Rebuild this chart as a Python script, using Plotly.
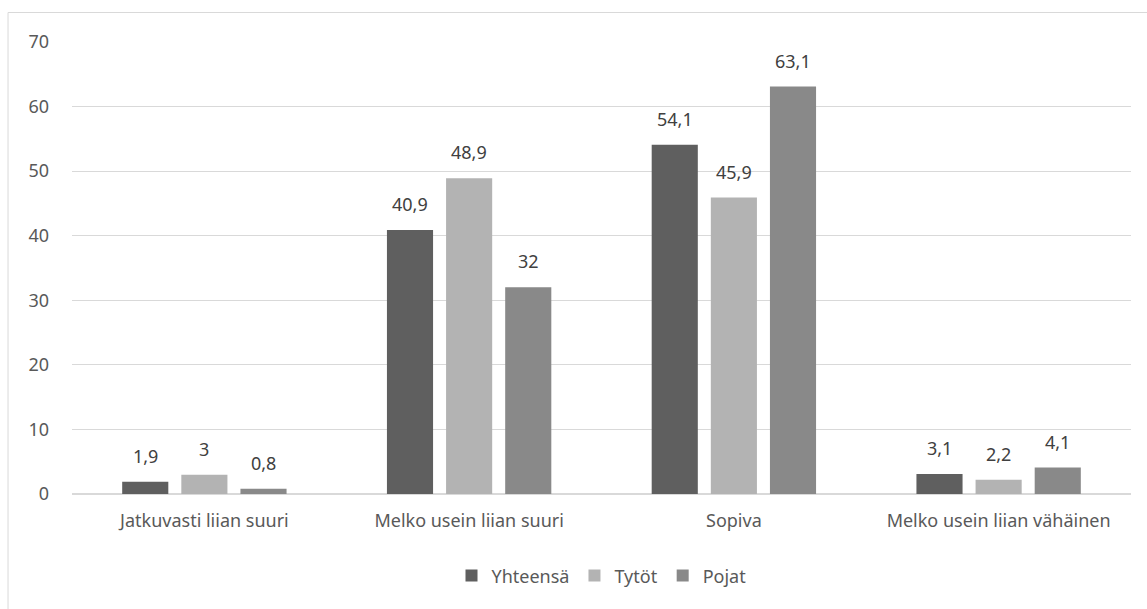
import plotly.graph_objects as go

categories = ["Jatkuvasti liian suuri", "Melko usein liian suuri", "Sopiva", "Melko usein liian vähäinen"]
series_names = ["Yhteensä", "Tytöt", "Pojat"]
yhteensa = [1.9, 40.9, 54.1, 3.1]
tytot = [3, 48.9, 45.9, 2.2]
pojat = [0.8, 32, 63.1, 4.1]
colors = ["#5f5f5f", "#b3b3b3", "#898989"]
y_ticks = [0, 10, 20, 30, 40, 50, 60, 70]

FONT = "Noto Sans"

def fmt(v):
    s = ("%g" % v)
    return s.replace(".", ",")

fig = go.Figure()
all_series = [yhteensa, tytot, pojat]
for name, vals, col in zip(series_names, all_series, colors):
    fig.add_trace(go.Bar(
        name=name, x=categories, y=vals,
        marker=dict(color=col, line=dict(width=0)),
        cliponaxis=False,
    ))

slot = 59
annotations = []
for i, vals in enumerate(all_series):
    for c, v in zip(categories, vals):
        annotations.append(dict(
            x=c, y=v, xref="x", yref="y", text=fmt(v), showarrow=False,
            xanchor="center", yanchor="bottom", xshift=(i - 1) * slot, yshift=12,
            font=dict(family=FONT, size=18, color="#404040"),
        ))

fig.update_layout(
    width=1147, height=609,
    margin=dict(l=72, r=16, t=42, b=115),
    paper_bgcolor="white", plot_bgcolor="white",
    barmode="group", bargap=0.33, bargroupgap=0.22,
    font=dict(family=FONT, size=18, color="#595959"),
    showlegend=True,
    legend=dict(orientation="h", x=0.5, xanchor="center", y=-0.14, yanchor="top",
                font=dict(family=FONT, size=18, color="#595959"),
                itemwidth=30, traceorder="normal"),
    xaxis=dict(showgrid=False, showline=False, ticks="", ticklabelstandoff=14,
               tickfont=dict(size=18, color="#595959")),
    yaxis=dict(range=[0, 70], tickvals=y_ticks, showgrid=True, gridcolor="#d9d9d9", gridwidth=1,
               zeroline=True, zerolinecolor="#d9d9d9", zerolinewidth=1.5, showline=False,
               ticks="", ticklabelstandoff=22, tickfont=dict(size=18, color="#595959")),
    annotations=annotations,
    shapes=[dict(type="rect", xref="paper", yref="paper",
                 x0=-0.0604, x1=1.2, y0=-0.4, y1=1.0653,
                 line=dict(color="#d9d9d9", width=1), fillcolor="rgba(0,0,0,0)", layer="below")],
)

fig.write_html("out.html")
